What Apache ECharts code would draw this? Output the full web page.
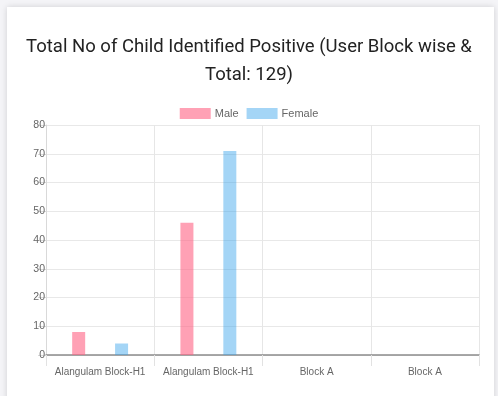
<!DOCTYPE html>
<html>
<head>
<meta charset="utf-8">
<script src="https://cdn.jsdelivr.net/npm/echarts@6/dist/echarts.min.js"></script>
<style>
html,body{margin:0;padding:0;width:498px;height:396px;background:#f4f4f7;overflow:hidden;}
#card{position:absolute;left:7px;top:7px;width:487px;height:400px;background:#fff;box-shadow:0 0 6px rgba(0,0,0,0.15);}
#chart{position:absolute;left:0;top:0;width:498px;height:396px;}
</style>
</head>
<body>
<div id="card"></div>
<div id="chart"></div>
<script>
const titleText = "Total No of Child Identified Positive (User Block wise &\nTotal: 129)";
const categories = ["Alangulam Block-H1", "Alangulam Block-H1", "Block A", "Block A"];
const maleValues = [8, 46, 0, 0];
const femaleValues = [4, 71, 0, 0];
const yMin = 0, yMax = 80, yStep = 10;

const labelFont = "'Liberation Sans', Arial, sans-serif";
const chart = echarts.init(document.getElementById('chart'));
chart.setOption({
  animation: false,
  title: {
    text: titleText,
    left: 'center',
    top: 28,
    textStyle: {fontFamily: "Roboto, 'Noto Sans', sans-serif", fontSize: 18.5, fontWeight: 'normal', color: '#222', lineHeight: 28}
  },
  legend: {
    top: 103,
    left: 'center',
    itemWidth: 31,
    itemHeight: 11,
    itemGap: 8,
    icon: 'rect',
    textStyle: {fontFamily: labelFont, fontSize: 11, color: '#666', padding: [0, 0, 0, -1]},
    data: ['Male', 'Female']
  },
  grid: {left: 46, right: 19, top: 125, bottom: 41, containLabel: false},
  xAxis: {
    type: 'category',
    data: categories,
    boundaryGap: true,
    axisLine: {lineStyle: {color: '#8c8c8c', width: 1.5}},
    axisTick: {show: true, interval: 0, length: 11, lineStyle: {color: '#e2e2e2'}},
    splitLine: {show: true, interval: 0, lineStyle: {color: '#e6e6e6'}},
    axisLabel: {interval: 0, fontFamily: labelFont, fontSize: 10, color: '#666', margin: 12}
  },
  yAxis: {
    type: 'value',
    min: yMin, max: yMax, interval: yStep,
    axisLine: {show: true, lineStyle: {color: '#d9d9d9'}},
    axisTick: {show: true, length: 8, lineStyle: {color: '#d9d9d9'}},
    splitLine: {lineStyle: {color: '#e8e8e8'}},
    axisLabel: {fontFamily: labelFont, fontSize: 10.5, color: '#666', margin: 1}
  },
  series: [
    {name: 'Male', type: 'bar', data: maleValues, barWidth: 13, barGap: '230%',
     itemStyle: {color: 'rgba(255,99,132,0.6)'}},
    {name: 'Female', type: 'bar', data: femaleValues, barWidth: 13, barGap: '230%',
     itemStyle: {color: 'rgba(54,162,235,0.45)'}}
  ]
});
</script>
</body>
</html>
